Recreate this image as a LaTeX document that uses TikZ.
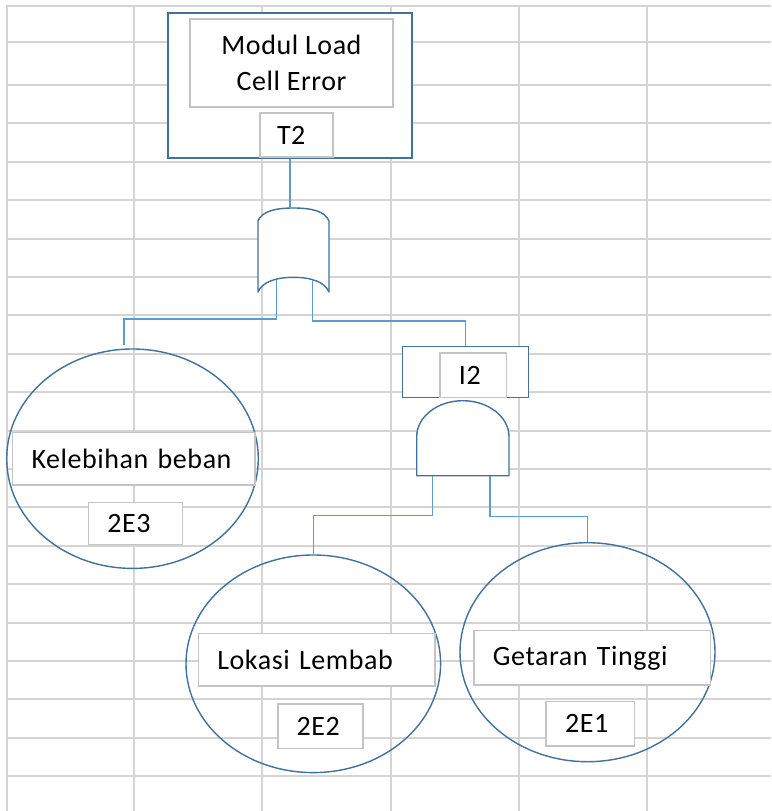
\documentclass[tikz,border=0pt]{standalone}
\usepackage{fontspec}
\setmainfont{Carlito}[LetterSpace=2]
\usetikzlibrary{shapes.geometric}

\definecolor{gridgray}{RGB}{212,212,212}
\definecolor{boxgray}{RGB}{196,196,196}
\definecolor{shapeblue}{RGB}{65,113,156}
\definecolor{linkblue}{RGB}{91,155,213}

\begin{document}
\begin{tikzpicture}[x=1pt,y=1pt,
  font=\fontsize{28}{36}\selectfont,
  gridline/.style={draw=gridgray, line width=2pt},
  frame/.style={draw=shapeblue, line width=1.4pt, fill=white, inner sep=0pt},
  event/.style={ellipse, draw=shapeblue, line width=1.4pt, inner sep=0pt},
  tagbox/.style={draw=boxgray, line width=1.6pt, fill=white, inner xsep=19pt,
                 inner ysep=0pt, align=left},
  gate/.style={draw=shapeblue, line width=1.4pt, fill=white, line join=round},
  conn/.style={draw=linkblue, line width=1.3pt},
]
\useasboundingbox (0,0) rectangle (771,-811);
\fill[white] (0,0) rectangle (771,-811);

% worksheet grid
\foreach \gx in {7,134,262.3,390.5,518.7,646.8}
  \draw[gridline] (\gx,-5) -- (\gx,-811);
\foreach \gy in {6,42}
  \draw[gridline] (6,-\gy) -- (771,-\gy);
\foreach \k in {0,...,18}
  \draw[gridline] (6,{-85-38.4*\k}) -- (771,{-85-38.4*\k});

% top event
\node[frame, minimum width=244pt, minimum height=145pt] (top) at (290,-85.5) {};
\node[tagbox, align=center, inner xsep=0pt, minimum width=203pt, minimum height=88pt]
  (toptext) at (291.5,-63) {Modul Load\\Cell Error};
\node[tagbox, inner xsep=17pt, text width=39pt, minimum height=44pt]
  (t2) at (296.5,-135) {T2};

% OR gate
\draw[gate] (258,-221) -- (258,-292)
  .. controls (262,-282) and (276,-277.3) .. (293.5,-277.3)
  .. controls (311,-277.3) and (325,-282) .. (329,-292)
  -- (329,-221)
  .. controls (325,-211) and (311,-208) .. (293.5,-208)
  .. controls (276,-208) and (262,-211) .. (258,-221) -- cycle;
\coordinate (orIn) at (290,-208.3);
\coordinate (orA) at (276.7,-279.5);
\coordinate (orB) at (312.7,-279.5);

% intermediate event
\node[frame, minimum width=126pt, minimum height=50.6pt] (i2) at (465.3,-372) {};
\node[tagbox, text width=28.7pt, minimum height=44.6pt] (i2text) at (473.3,-375) {I2};

% AND gate
\draw[gate] (416.7,-475.7) -- (416.7,-436.7)
  .. controls (416.7,-416.8) and (437.35,-400.7) .. (462.85,-400.7)
  .. controls (488.35,-400.7) and (509,-416.8) .. (509,-436.7)
  -- (509,-475.7) -- cycle;
\coordinate (andA) at (432.3,-475.7);
\coordinate (andB) at (490,-475.7);

% basic events
\node[event, minimum width=251.6pt, minimum height=219.4pt] (e3) at (132.5,-458.7) {};
\node[tagbox, text width=204.3pt, minimum height=52.7pt] (e3text) at (133.8,-458.7) {Kelebihan beban};
\node[tagbox, text width=56pt, minimum height=42pt] (e3id) at (135.3,-523.3) {2E3};

\node[event, minimum width=254.6pt, minimum height=217.6pt] (e2) at (313.3,-663.8) {};
\node[tagbox, text width=198.7pt, minimum height=52.7pt] (e2text) at (316.7,-659.7) {Lokasi Lembab};
\node[tagbox, text width=47pt, minimum height=44.3pt] (e2id) at (320.2,-726.2) {2E2};

\node[event, minimum width=255pt, minimum height=219pt] (e1) at (587.5,-652.2) {};
\node[tagbox, text width=198.7pt, minimum height=54.3pt] (e1text) at (592.3,-657.8) {Getaran Tinggi};
\node[tagbox, text width=50.3pt, minimum height=44.3pt] (e1id) at (590.2,-723.8) {2E1};

% connectors
\coordinate (orLbend) at (276.7,-319);
\coordinate (orRbend) at (312.7,-321);
\coordinate (e3end) at (124,-345);
\coordinate (andLbend) at (432.3,-515.7);
\coordinate (andRbend) at (490,-516.7);

\draw[conn] (top.south) -- (orIn);
\draw[conn] (orA) -- (orLbend) -| (e3end);
\draw[conn] (orB) -- (orRbend) -| (i2.north);
\draw[conn] (andA) -- (andLbend) -| (e2.north);
\draw[conn] (andB) -- (andRbend) -| (e1.north);
\end{tikzpicture}
\end{document}
